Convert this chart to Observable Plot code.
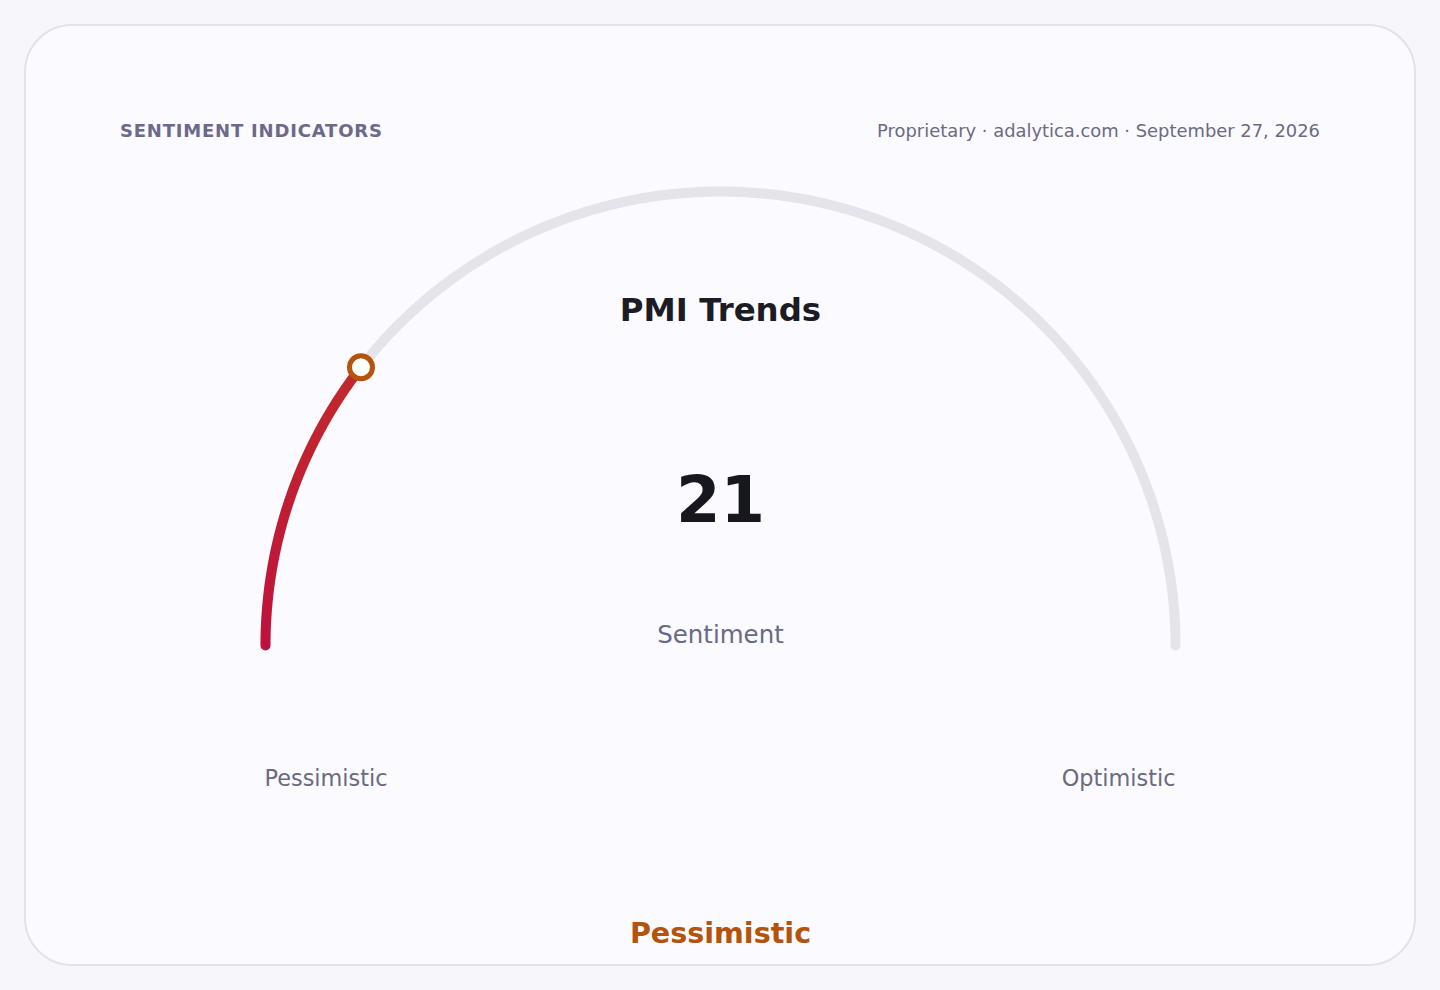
<!DOCTYPE html>
<html>
<head>
<meta charset="utf-8">
<script src="https://cdn.jsdelivr.net/npm/d3@7"></script>
<script src="https://cdn.jsdelivr.net/npm/@observablehq/plot@0.6"></script>
<style>
  html, body { margin: 0; padding: 0; }
  body { width: 1440px; height: 990px; background: #f7f7fb; position: relative; overflow: hidden; font-family: "DejaVu Sans", sans-serif; }
  .card { position: absolute; left: 24px; top: 24px; width: 1392px; height: 942px; box-sizing: border-box; border: 2px solid #e2e1ec; border-radius: 48px; background: #fafaff; }
  .hdr { position: absolute; top: 122px; line-height: 18px; white-space: nowrap; }
  .hdr-left { left: 120px; font-size: 18px; font-weight: bold; color: #6c6989; letter-spacing: 0.8px; }
  .hdr-right { right: 120px; font-size: 17.9px; color: #6b6a82; }
  #chart { position: absolute; left: 0; top: 0; }
</style>
</head>
<body>
<div class="card"></div>
<div class="hdr hdr-left" id="kicker"></div>
<div class="hdr hdr-right" id="source"></div>
<div id="chart"></div>
<script>
// ---- data ----
const kicker = "SENTIMENT INDICATORS";
const sourceParts = ["Proprietary", "adalytica.com", "September 27, 2026"];
const gaugeTitle = "PMI Trends";
const metricLabel = "Sentiment";
const gaugeDomain = [0, 100];
const gaugeValue = 21;
const endLabels = ["Pessimistic", "Optimistic"];
const statusLabel = "Pessimistic";

document.getElementById("kicker").textContent = kicker;
document.getElementById("source").textContent = sourceParts.join(" · ");

// value -> unit-circle position on the half gauge
const toAngle = v => Math.PI * (1 - (v - gaugeDomain[0]) / (gaugeDomain[1] - gaugeDomain[0]));
const arcPoints = (v0, v1) => {
  const n = 200, pts = [];
  for (let i = 0; i <= n; i++) {
    const v = v0 + (v1 - v0) * i / n;
    const a = toAngle(v);
    pts.push({v, x: Math.cos(a), y: Math.sin(a)});
  }
  return pts;
};
const track = arcPoints(gaugeDomain[0], gaugeDomain[1]);
const filled = arcPoints(gaugeDomain[0], gaugeValue);
const marker = [{x: Math.cos(toAngle(gaugeValue)), y: Math.sin(toAngle(gaugeValue))}];

// gradient definition mark
const gradientDefs = (index, scales) => {
  const ns = "http://www.w3.org/2000/svg";
  const defs = document.createElementNS(ns, "defs");
  const g = document.createElementNS(ns, "linearGradient");
  g.setAttribute("id", "fillGrad");
  g.setAttribute("gradientUnits", "userSpaceOnUse");
  g.setAttribute("x1", scales.x(-1)); g.setAttribute("y1", scales.y(0));
  g.setAttribute("x2", scales.x(marker[0].x)); g.setAttribute("y2", scales.y(marker[0].y));
  [["0%", "#be123c"], ["100%", "#c22a2c"]].forEach(([o, c]) => {
    const s = document.createElementNS(ns, "stop");
    s.setAttribute("offset", o); s.setAttribute("stop-color", c);
    g.appendChild(s);
  });
  defs.appendChild(g);
  return defs;
};

const font = "DejaVu Sans";
const chart = Plot.plot({
  width: 1440,
  height: 990,
  margin: 0,
  x: {domain: [-1, 1], range: [265, 1175], axis: null},
  y: {domain: [0, 1], range: [645, 191], axis: null},
  style: {background: "transparent", fontFamily: font},
  marks: [
    gradientDefs,
    Plot.line(track, {x: "x", y: "y", stroke: "#e5e4ea", strokeWidth: 10, strokeLinecap: "round", curve: "linear"}),
    Plot.line(filled, {x: "x", y: "y", stroke: "url(#fillGrad)", strokeWidth: 10, strokeLinecap: "round", curve: "linear"}),
    Plot.dot(marker, {x: "x", y: "y", r: 11.5, fill: "white", stroke: "#b45309", strokeWidth: 5}),
    Plot.text([gaugeTitle], {x: 0, y: 0.714, text: d => d, lineAnchor: "bottom", fontSize: 32.4, fontWeight: "bold", fill: "#1c1c24", fontFamily: font}),
    Plot.text([gaugeValue], {x: 0, y: 0.2725, text: d => String(d), lineAnchor: "bottom", fontSize: 64, fontWeight: "bold", fill: "#17171f", fontFamily: font}),
    Plot.text([metricLabel], {x: 0, y: 0.0066, text: d => d, lineAnchor: "bottom", fontSize: 24.5, fill: "#6b6a85", fontFamily: font}),
    Plot.text([endLabels[0]], {x: -1, y: -0.31, text: d => d, lineAnchor: "bottom", textAnchor: "start", dx: -1, fontSize: 22.4, fill: "#6b6a80", fontFamily: font}),
    Plot.text([endLabels[1]], {x: 1, y: -0.31, text: d => d, lineAnchor: "bottom", textAnchor: "end", fontSize: 22.4, fill: "#6b6a80", fontFamily: font}),
    Plot.text([statusLabel], {x: 0, y: -0.655, text: d => d, lineAnchor: "bottom", fontSize: 28.6, fontWeight: "bold", fill: "#b45309", fontFamily: font})
  ]
});
document.getElementById("chart").appendChild(chart);
</script>
</body>
</html>
